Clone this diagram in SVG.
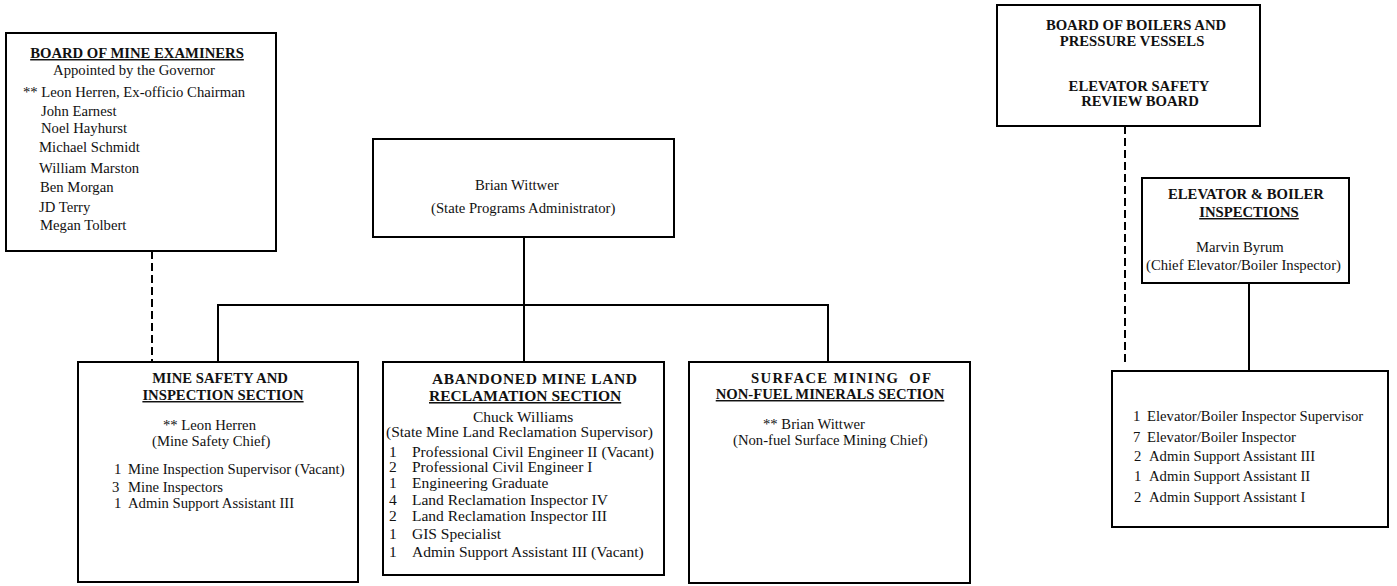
<svg xmlns="http://www.w3.org/2000/svg" width="1397" height="586" viewBox="0 0 1397 586">
<style>
  .box { fill: #fff; stroke: #000; stroke-width: 2; }
  .ln { stroke: #000; stroke-width: 2; fill: none; }
  .dash { stroke: #000; stroke-width: 2; fill: none; stroke-dasharray: 8 4; }
  text { font-family: "Liberation Serif", "Times New Roman", serif; font-size: 14.7px; fill: #111; white-space: pre; }
  .b { font-weight: bold; }
  .c { text-anchor: middle; }
  .u { text-decoration: underline; }
  .big { font-size: 15.5px; }
</style>
<rect width="1397" height="586" fill="#fff"/>
<g id="connectors">
  <line class="ln" x1="524" y1="237" x2="524" y2="305"/>
  <line class="ln" x1="218" y1="305" x2="829" y2="305"/>
  <line class="ln" x1="218" y1="304" x2="218" y2="362"/>
  <line class="ln" x1="524" y1="304" x2="524" y2="362"/>
  <line class="ln" x1="828" y1="304" x2="828" y2="362"/>
  <line class="dash" x1="152" y1="251" x2="152" y2="362"/>
  <line class="dash" x1="1125" y1="126" x2="1125" y2="363"/>
  <line class="ln" x1="1249" y1="283" x2="1249" y2="371"/>
</g>
<g id="board-mine-examiners">
  <rect class="box" x="6" y="33" width="270" height="218"/>
  <text class="b c u" x="137" y="58">BOARD OF MINE EXAMINERS</text>
  <text class="c" x="134" y="75">Appointed by the Governor</text>
  <text x="23" y="97">** Leon Herren, Ex-officio Chairman</text>
  <text x="41" y="116">John Earnest</text>
  <text x="41" y="133">Noel Hayhurst</text>
  <text x="39" y="152">Michael Schmidt</text>
  <text x="39" y="173">William Marston</text>
  <text x="40" y="192">Ben Morgan</text>
  <text x="39" y="212">JD Terry</text>
  <text x="40" y="230">Megan Tolbert</text>
</g>
<g id="administrator">
  <rect class="box" x="373" y="139" width="301" height="98"/>
  <text x="475" y="190">Brian Wittwer</text>
  <text x="431" y="213">(State Programs Administrator)</text>
</g>
<g id="mine-safety">
  <rect class="box" x="78" y="362" width="280" height="220"/>
  <text class="b c" x="220" y="383">MINE SAFETY AND</text>
  <text class="b c u" x="223" y="400">INSPECTION SECTION</text>
  <text x="163" y="430">** Leon Herren</text>
  <text x="152" y="446">(Mine Safety Chief)</text>
  <text y="474"><tspan x="114">1</tspan><tspan x="128">Mine Inspection Supervisor (Vacant)</tspan></text>
  <text y="492"><tspan x="112">3</tspan><tspan x="128">Mine Inspectors</tspan></text>
  <text y="508"><tspan x="114">1</tspan><tspan x="128">Admin Support Assistant III</tspan></text>
</g>
<g id="abandoned-mine-land">
  <rect class="box" x="383" y="362" width="281" height="213"/>
  <text class="b big" x="432" y="384" textLength="205" lengthAdjust="spacing">ABANDONED MINE LAND</text>
  <text class="b big u" x="429" y="401">RECLAMATION SECTION</text>
  <text class="big" x="473" y="422">Chuck Williams</text>
  <text class="big" x="386" y="437">(State Mine Land Reclamation Supervisor)</text>
  <text class="big" y="457"><tspan x="389">1</tspan><tspan x="412">Professional Civil Engineer II (Vacant)</tspan></text>
  <text class="big" y="472"><tspan x="389">2</tspan><tspan x="412">Professional Civil Engineer I</tspan></text>
  <text class="big" y="488"><tspan x="389">1</tspan><tspan x="412">Engineering Graduate</tspan></text>
  <text class="big" y="505"><tspan x="389">4</tspan><tspan x="412">Land Reclamation Inspector IV</tspan></text>
  <text class="big" y="521"><tspan x="389">2</tspan><tspan x="412">Land Reclamation Inspector III</tspan></text>
  <text class="big" y="539"><tspan x="389">1</tspan><tspan x="412">GIS Specialist</tspan></text>
  <text class="big" y="557"><tspan x="389">1</tspan><tspan x="412">Admin Support Assistant III (Vacant)</tspan></text>
</g>
<g id="surface-mining">
  <rect class="box" x="689" y="362" width="281" height="221"/>
  <text class="b" x="751" y="383" textLength="180" lengthAdjust="spacing">SURFACE MINING  OF</text>
  <text class="b c u" x="830" y="399">NON-FUEL MINERALS SECTION</text>
  <text x="763" y="429">** Brian Wittwer</text>
  <text x="733" y="445">(Non-fuel Surface Mining Chief)</text>
</g>
<g id="boilers-board">
  <rect class="box" x="997" y="5" width="263" height="121"/>
  <text class="b c" x="1136" y="30">BOARD OF BOILERS AND</text>
  <text class="b c" x="1132" y="46">PRESSURE VESSELS</text>
  <text class="b c" x="1139" y="91">ELEVATOR SAFETY</text>
  <text class="b c" x="1140" y="106">REVIEW BOARD</text>
</g>
<g id="elevator-boiler">
  <rect class="box" x="1142" y="178" width="207" height="105"/>
  <text class="b" x="1168" y="199">ELEVATOR &amp; BOILER</text>
  <text class="b c u" x="1249" y="217">INSPECTIONS</text>
  <text x="1196" y="252">Marvin Byrum</text>
  <text x="1146" y="270">(Chief Elevator/Boiler Inspector)</text>
</g>
<g id="elevator-staff">
  <rect class="box" x="1112" y="371" width="276" height="156"/>
  <text y="421"><tspan x="1133">1</tspan><tspan x="1147">Elevator/Boiler Inspector Supervisor</tspan></text>
  <text y="442"><tspan x="1133">7</tspan><tspan x="1147">Elevator/Boiler Inspector</tspan></text>
  <text y="461"><tspan x="1134">2</tspan><tspan x="1149">Admin Support Assistant III</tspan></text>
  <text y="481"><tspan x="1134">1</tspan><tspan x="1149">Admin Support Assistant II</tspan></text>
  <text y="502"><tspan x="1134">2</tspan><tspan x="1149">Admin Support Assistant I</tspan></text>
</g>
</svg>
